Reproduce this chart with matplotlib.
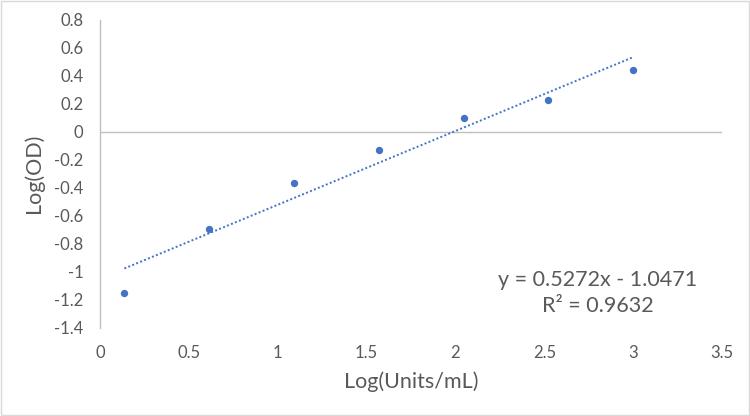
import matplotlib
matplotlib.use("Agg")
import matplotlib.pyplot as plt
import numpy as np
from matplotlib.ticker import FuncFormatter, MultipleLocator
from matplotlib.patches import Rectangle

# data
log_units = [0.137, 0.614, 1.091, 1.568, 2.046, 2.523, 3.0]
log_od = [-1.148, -0.696, -0.364, -0.129, 0.098, 0.230, 0.443]

# Excel linear trendline shown on the chart
slope = 0.5272
intercept = -1.0471
r_squared = 0.9632

blue = '#4472C4'
grey_text = '#595959'

plt.rcParams['font.family'] = ['Lato', 'DejaVu Sans']

fig = plt.figure(figsize=(7.5, 4.16), dpi=100)
ax = fig.add_axes([100 / 750, 1 - 328 / 416, 622 / 750, 308 / 416])

# trendline (dotted) and points
xt = np.array([min(log_units), max(log_units)])
ax.plot(xt, slope * xt + intercept, linestyle=(0, (1, 1.2)), color=blue, lw=1.4, zorder=2)
ax.scatter(log_units, log_od, s=28, color=blue, zorder=3, linewidths=0)

ax.set_xlim(0, 3.5)
ax.set_ylim(-1.4, 0.8)
ax.xaxis.set_major_locator(MultipleLocator(0.5))
ax.yaxis.set_major_locator(MultipleLocator(0.2))
fmt = FuncFormatter(lambda v, p: '{:g}'.format(round(v, 2)) if abs(v) > 1e-9 else '0')
ax.xaxis.set_major_formatter(fmt)
ax.yaxis.set_major_formatter(fmt)

for s in ['top', 'right', 'bottom']:
    ax.spines[s].set_visible(False)
ax.spines['left'].set_color('#BFBFBF')
ax.spines['left'].set_linewidth(1)
ax.axhline(0, color='#BFBFBF', lw=1, zorder=1)

ax.tick_params(length=0, labelsize=12, labelcolor=grey_text)
ax.tick_params(axis='x', pad=12.5)
ax.tick_params(axis='y', pad=12)

fig.text(411 / 750, 1 - 382 / 416, 'Log(Units/mL)', ha='center', va='center',
         fontsize=15.5, color=grey_text)
fig.text(34 / 750, 1 - 173 / 416, 'Log(OD)', ha='center', va='center',
         rotation=90, fontsize=15.5, color=grey_text)

ax.text(2.80, -1.057, 'y = {:.4f}x - {:.4f}'.format(slope, abs(intercept)),
        ha='center', va='center', fontsize=15.5, color=grey_text)
ax.text(2.80, -1.24, 'R² = {:.4f}'.format(r_squared),
        ha='center', va='center', fontsize=15.5, color=grey_text)

# chart area border
fig.patches.append(Rectangle((0.001, 0.002), 0.997, 0.996, transform=fig.transFigure,
                             fill=False, edgecolor='#D9D9D9', lw=1))

fig.savefig('out.png', dpi=100)
